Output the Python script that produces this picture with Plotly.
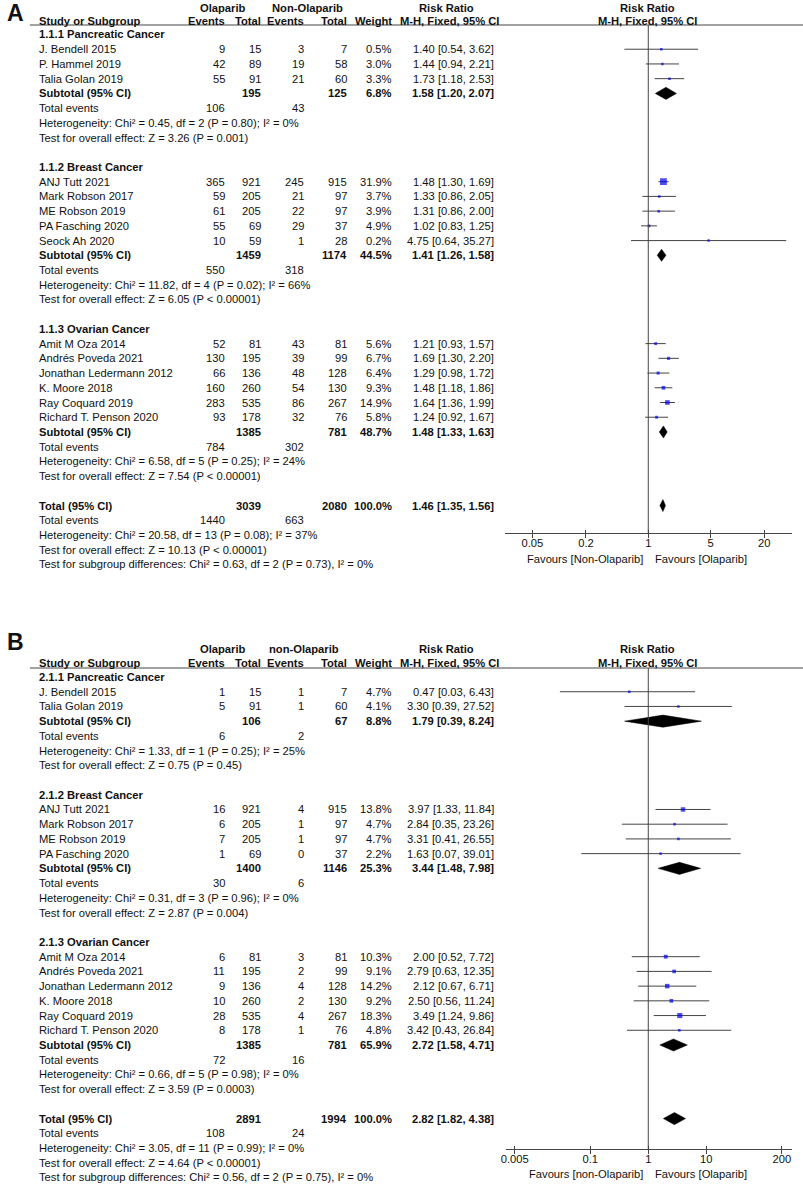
import math
import plotly.graph_objects as go

W, H = 803, 1187

# ---------------- Panel A data ----------------
a_groups = ["1.1.1 Pancreatic Cancer", "1.1.2 Breast Cancer", "1.1.3 Ovarian Cancer"]
a_studies = [["J. Bendell 2015", "P. Hammel 2019", "Talia Golan 2019"],
             ["ANJ Tutt 2021", "Mark Robson 2017", "ME Robson 2019", "PA Fasching 2020", "Seock Ah 2020"],
             ["Amit M Oza 2014", "Andrés Poveda 2021", "Jonathan Ledermann 2012", "K. Moore 2018",
              "Ray Coquard 2019", "Richard T. Penson 2020"]]
a_ev_ola = [[9, 42, 55], [365, 59, 61, 55, 10], [52, 130, 66, 160, 283, 93]]
a_tot_ola = [[15, 89, 91], [921, 205, 205, 69, 59], [81, 195, 136, 260, 535, 178]]
a_ev_non = [[3, 19, 21], [245, 21, 22, 29, 1], [43, 39, 48, 54, 86, 32]]
a_tot_non = [[7, 58, 60], [915, 97, 97, 37, 28], [81, 99, 128, 130, 267, 76]]
a_weight = [[0.5, 3.0, 3.3], [31.9, 3.7, 3.9, 4.9, 0.2], [5.6, 6.7, 6.4, 9.3, 14.9, 5.8]]
a_rr = [[1.40, 1.44, 1.73], [1.48, 1.33, 1.31, 1.02, 4.75], [1.21, 1.69, 1.29, 1.48, 1.64, 1.24]]
a_lo = [[0.54, 0.94, 1.18], [1.30, 0.86, 0.86, 0.83, 0.64], [0.93, 1.30, 0.98, 1.18, 1.36, 0.92]]
a_hi = [[3.62, 2.21, 2.53], [1.69, 2.05, 2.00, 1.25, 35.27], [1.57, 2.20, 1.72, 1.86, 1.99, 1.67]]
a_sub_tot_ola = [195, 1459, 1385]
a_sub_tot_non = [125, 1174, 781]
a_sub_weight = [6.8, 44.5, 48.7]
a_sub_rr = [1.58, 1.41, 1.48]
a_sub_lo = [1.20, 1.26, 1.33]
a_sub_hi = [2.07, 1.58, 1.63]
a_sub_ev_ola = [106, 550, 784]
a_sub_ev_non = [43, 318, 302]
a_sub_het = ["Heterogeneity: Chi² = 0.45, df = 2 (P = 0.80); I² = 0%",
             "Heterogeneity: Chi² = 11.82, df = 4 (P = 0.02); I² = 66%",
             "Heterogeneity: Chi² = 6.58, df = 5 (P = 0.25); I² = 24%"]
a_sub_z = ["Test for overall effect: Z = 3.26 (P = 0.001)",
           "Test for overall effect: Z = 6.05 (P < 0.00001)",
           "Test for overall effect: Z = 7.54 (P < 0.00001)"]
a_all_tot_ola, a_all_tot_non, a_all_weight = 3039, 2080, 100.0
a_all_rr, a_all_lo, a_all_hi = 1.46, 1.35, 1.56
a_all_ev_ola, a_all_ev_non = 1440, 663
a_all_het = "Heterogeneity: Chi² = 20.58, df = 13 (P = 0.08); I² = 37%"
a_all_z = "Test for overall effect: Z = 10.13 (P < 0.00001)"
a_all_sub = "Test for subgroup differences: Chi² = 0.63, df = 2 (P = 0.73), I² = 0%"
a_ticks = [0.05, 0.2, 1, 5, 20]
a_tick_text = ["0.05", "0.2", "1", "5", "20"]
a_ctrl = "Non-Olaparib"

# ---------------- Panel B data ----------------
b_groups = ["2.1.1 Pancreatic Cancer", "2.1.2 Breast Cancer", "2.1.3 Ovarian Cancer"]
b_studies = [["J. Bendell 2015", "Talia Golan 2019"],
             ["ANJ Tutt 2021", "Mark Robson 2017", "ME Robson 2019", "PA Fasching 2020"],
             ["Amit M Oza 2014", "Andrés Poveda 2021", "Jonathan Ledermann 2012", "K. Moore 2018",
              "Ray Coquard 2019", "Richard T. Penson 2020"]]
b_ev_ola = [[1, 5], [16, 6, 7, 1], [6, 11, 9, 10, 28, 8]]
b_tot_ola = [[15, 91], [921, 205, 205, 69], [81, 195, 136, 260, 535, 178]]
b_ev_non = [[1, 1], [4, 1, 1, 0], [3, 2, 4, 2, 4, 1]]
b_tot_non = [[7, 60], [915, 97, 97, 37], [81, 99, 128, 130, 267, 76]]
b_weight = [[4.7, 4.1], [13.8, 4.7, 4.7, 2.2], [10.3, 9.1, 14.2, 9.2, 18.3, 4.8]]
b_rr = [[0.47, 3.30], [3.97, 2.84, 3.31, 1.63], [2.00, 2.79, 2.12, 2.50, 3.49, 3.42]]
b_lo = [[0.03, 0.39], [1.33, 0.35, 0.41, 0.07], [0.52, 0.63, 0.67, 0.56, 1.24, 0.43]]
b_hi = [[6.43, 27.52], [11.84, 23.26, 26.55, 39.01], [7.72, 12.35, 6.71, 11.24, 9.86, 26.84]]
b_sub_tot_ola = [106, 1400, 1385]
b_sub_tot_non = [67, 1146, 781]
b_sub_weight = [8.8, 25.3, 65.9]
b_sub_rr = [1.79, 3.44, 2.72]
b_sub_lo = [0.39, 1.48, 1.58]
b_sub_hi = [8.24, 7.98, 4.71]
b_sub_ev_ola = [6, 30, 72]
b_sub_ev_non = [2, 6, 16]
b_sub_het = ["Heterogeneity: Chi² = 1.33, df = 1 (P = 0.25); I² = 25%",
             "Heterogeneity: Chi² = 0.31, df = 3 (P = 0.96); I² = 0%",
             "Heterogeneity: Chi² = 0.66, df = 5 (P = 0.98); I² = 0%"]
b_sub_z = ["Test for overall effect: Z = 0.75 (P = 0.45)",
           "Test for overall effect: Z = 2.87 (P = 0.004)",
           "Test for overall effect: Z = 3.59 (P = 0.0003)"]
b_all_tot_ola, b_all_tot_non, b_all_weight = 2891, 1994, 100.0
b_all_rr, b_all_lo, b_all_hi = 2.82, 1.82, 4.38
b_all_ev_ola, b_all_ev_non = 108, 24
b_all_het = "Heterogeneity: Chi² = 3.05, df = 11 (P = 0.99); I² = 0%"
b_all_z = "Test for overall effect: Z = 4.64 (P < 0.00001)"
b_all_sub = "Test for subgroup differences: Chi² = 0.56, df = 2 (P = 0.75), I² = 0%"
b_ticks = [0.005, 0.1, 1, 10, 200]
b_tick_text = ["0.005", "0.1", "1", "10", "200"]
b_ctrl = "non-Olaparib"

# ---------------- styling / layout helpers ----------------
FONT = "Liberation Sans, Arial, sans-serif"
FS = 11.2
TXT = "#111111"
LINE = "#444444"
SQ = "#0000ee"
COL = dict(ev_o=222.7, tot_o=258.5, ev_n=302, tot_n=345, w=390.7, rr=493)
TEXT_X = 33


def xp(px):
    return px / W


def yp(py):
    return 1 - py / H


annotations, shapes, traces = [], [], []


def ann(px, py, text, anchor="left", bold=False, size=FS):
    annotations.append(dict(
        x=xp(px), y=yp(py), xref="paper", yref="paper",
        text=f"<b>{text}</b>" if bold else text, showarrow=False,
        xanchor=anchor, yanchor="middle", borderpad=0,
        font=dict(family=FONT, size=size, color=TXT)))


def fmt_rr(r, l, h):
    return f"{r:.2f} [{l:.2f}, {h:.2f}]"


def panel(d, cfg):
    xa, ya, xo = cfg["xa"], cfg["ya"], cfg["xo"]
    row0, step = cfg["row0"], cfg["step"]
    py = lambda i: row0 + i * step

    # headers
    h1, h2 = cfg["hdr1"], cfg["hdr2"]
    ann(1, cfg["lab_y"], cfg["label"], bold=True, size=23)
    ann(219, h1, "Olaparib", "center", True)
    ann(cfg["ctrl_x"], h1, d["ctrl"], "center", True)
    ann(444, h1, "Risk Ratio", "center", True)
    ann(647, h1, "Risk Ratio", "center", True)
    ann(TEXT_X, h2, "Study or Subgroup", bold=True)
    ann(COL["ev_o"], h2, "Events", "right", True)
    ann(COL["tot_o"], h2, "Total", "right", True)
    ann(COL["ev_n"], h2, "Events", "right", True)
    ann(COL["tot_n"], h2, "Total", "right", True)
    ann(COL["w"], h2, "Weight", "right", True)
    ann(447, h2, "M-H, Fixed, 95% CI", "center", True)
    ann(647, h2, "M-H, Fixed, 95% CI", "center", True)
    shapes.append(dict(type="line", xref="paper", yref="paper", x0=xp(25), x1=1,
                       y0=yp(cfg["top"]), y1=yp(cfg["top"]), line=dict(color=LINE, width=1)))

    ci_x, ci_y, sq_x, sq_y, sq_s, dm_x, dm_y = [], [], [], [], [], [], []
    hh = 0.41

    def diamond(i, r, l, h):
        dm_x.extend([l, r, h, r, l, None])
        dm_y.extend([i, i - hh, i, i + hh, i, None])

    i = 0
    for g in range(len(d["groups"])):
        ann(TEXT_X, py(i), d["groups"][g], bold=True)
        i += 1
        for s in range(len(d["studies"][g])):
            y = py(i)
            ann(TEXT_X, y, d["studies"][g][s])
            ann(COL["ev_o"], y, str(d["ev_ola"][g][s]), "right")
            ann(COL["tot_o"], y, str(d["tot_ola"][g][s]), "right")
            ann(COL["ev_n"], y, str(d["ev_non"][g][s]), "right")
            ann(COL["tot_n"], y, str(d["tot_non"][g][s]), "right")
            ann(COL["w"], y, f"{d['weight'][g][s]:.1f}%", "right")
            ann(COL["rr"], y, fmt_rr(d["rr"][g][s], d["lo"][g][s], d["hi"][g][s]), "right")
            ci_x.extend([d["lo"][g][s], d["hi"][g][s], None])
            ci_y.extend([i, i, None])
            sq_x.append(d["rr"][g][s])
            sq_y.append(i)
            sq_s.append(max(2.5, 1.2 * math.sqrt(d["weight"][g][s])))
            i += 1
        y = py(i)
        ann(TEXT_X, y, "Subtotal (95% CI)", bold=True)
        ann(COL["tot_o"], y, str(d["sub_tot_ola"][g]), "right", True)
        ann(COL["tot_n"], y, str(d["sub_tot_non"][g]), "right", True)
        ann(COL["w"], y, f"{d['sub_weight'][g]:.1f}%", "right", True)
        ann(COL["rr"], y, fmt_rr(d["sub_rr"][g], d["sub_lo"][g], d["sub_hi"][g]), "right", True)
        diamond(i, d["sub_rr"][g], d["sub_lo"][g], d["sub_hi"][g])
        i += 1
        y = py(i)
        ann(TEXT_X, y, "Total events")
        ann(COL["ev_o"], y, str(d["sub_ev_ola"][g]), "right")
        ann(COL["ev_n"], y, str(d["sub_ev_non"][g]), "right")
        i += 1
        ann(TEXT_X, py(i), d["sub_het"][g]); i += 1
        ann(TEXT_X, py(i), d["sub_z"][g]); i += 1
        i += 1  # blank row
    y = py(i)
    ann(TEXT_X, y, "Total (95% CI)", bold=True)
    ann(COL["tot_o"], y, str(d["all_tot_ola"]), "right", True)
    ann(COL["tot_n"], y, str(d["all_tot_non"]), "right", True)
    ann(COL["w"], y, f"{d['all_weight']:.1f}%", "right", True)
    ann(COL["rr"], y, fmt_rr(d["all_rr"], d["all_lo"], d["all_hi"]), "right", True)
    diamond(i, d["all_rr"], d["all_lo"], d["all_hi"])
    i += 1
    y = py(i)
    ann(TEXT_X, y, "Total events")
    ann(COL["ev_o"], y, str(d["all_ev_ola"]), "right")
    ann(COL["ev_n"], y, str(d["all_ev_non"]), "right")
    i += 1
    ann(TEXT_X, py(i), d["all_het"]); i += 1
    ann(TEXT_X, py(i), d["all_z"]); i += 1
    ann(TEXT_X, py(i), d["all_sub"]); i += 1

    # favours labels
    ann(643, cfg["fav_y"], f"Favours [{d['ctrl']}]", "right")
    ann(653, cfg["fav_y"], "Favours [Olaparib]", "left")

    # marks
    traces.append(go.Scatter(x=ci_x, y=ci_y, mode="lines", line=dict(color=LINE, width=1),
                             xaxis=xa, yaxis=ya, hoverinfo="skip", showlegend=False))
    traces.append(go.Scatter(x=sq_x, y=sq_y, mode="markers",
                             marker=dict(symbol="square", size=sq_s, color=SQ, line=dict(width=0)),
                             xaxis=xa, yaxis=ya, showlegend=False))
    traces.append(go.Scatter(x=dm_x, y=dm_y, mode="lines", fill="toself", fillcolor="black",
                             line=dict(color="black", width=0.5), xaxis=xa, yaxis=ya,
                             hoverinfo="skip", showlegend=False))
    traces.append(go.Scatter(x=[1], y=[0], mode="markers", marker=dict(opacity=0),
                             xaxis=xo, yaxis=ya, hoverinfo="skip", showlegend=False))

    # axes
    one, dec = cfg["one_px"], cfg["decade_px"]
    rng = [(cfg["xl"] - one) / dec, (cfg["xr"] - one) / dec]
    dom = [xp(cfg["xl"]), xp(cfg["xr"])]
    yrng = [(cfg["axis"] - row0) / step, (cfg["top"] - row0) / step]
    yname = "yaxis" + ya[1:]
    xname = "xaxis" + xa[1:]
    xoname = "xaxis" + xo[1:]
    lay = {}
    lay[xname] = dict(type="log", range=rng, domain=dom, anchor=ya, showgrid=False, zeroline=False,
                      showline=True, linecolor=LINE, linewidth=1, ticks="outside", ticklen=4,
                      tickcolor=LINE, tickvals=d["ticks"], ticktext=d["tick_text"],
                      ticklabelstandoff=-4,
                      tickfont=dict(family=FONT, size=FS, color=TXT), fixedrange=True)
    lay[xoname] = dict(type="log", range=rng, domain=dom, anchor=ya, overlaying=xa, showgrid=False,
                       zeroline=False, showline=False, ticks="inside", ticklen=3, tickcolor=LINE,
                       tickvals=d["ticks"], showticklabels=False)
    lay[yname] = dict(range=yrng, domain=[yp(cfg["axis"]), yp(cfg["top"])], visible=False,
                      anchor=xa, fixedrange=True)
    shapes.append(dict(type="line", xref=xa, yref=ya + " domain", x0=1, x1=1, y0=0, y1=1,
                       line=dict(color=LINE, width=1)))
    return lay


def pack(prefix):
    g = globals()
    keys = ["groups", "studies", "ev_ola", "tot_ola", "ev_non", "tot_non", "weight", "rr", "lo", "hi",
            "sub_tot_ola", "sub_tot_non", "sub_weight", "sub_rr", "sub_lo", "sub_hi", "sub_ev_ola",
            "sub_ev_non", "sub_het", "sub_z", "all_tot_ola", "all_tot_non", "all_weight", "all_rr",
            "all_lo", "all_hi", "all_ev_ola", "all_ev_non", "all_het", "all_z", "all_sub", "ticks",
            "tick_text", "ctrl"]
    return {k: g[prefix + k] for k in keys}


cfg_a = dict(xa="x", ya="y", xo="x3", row0=34.5, step=14.72, top=25, axis=533, xl=503, xr=791.7,
             one_px=647.3, decade_px=89.7, hdr1=8, hdr2=21, lab_y=13, label="A", ctrl_x=304, fav_y=558.5)
cfg_b = dict(xa="x2", ya="y2", xo="x4", row0=677, step=14.72, top=668, axis=1149, xl=504, xr=791.7,
             one_px=647.3, decade_px=58.4, hdr1=649, hdr2=663, lab_y=642, label="B", ctrl_x=301,
             fav_y=1174)

layout = {}
layout.update(panel(pack("a_"), cfg_a))
layout.update(panel(pack("b_"), cfg_b))

fig = go.Figure(data=traces)
fig.update_layout(width=W, height=H, margin=dict(l=0, r=0, t=0, b=0), paper_bgcolor="white",
                  plot_bgcolor="white", showlegend=False, annotations=annotations, shapes=shapes,
                  **layout)
fig.write_html("out.html", config={"displayModeBar": False},
               post_script="document.body.style.margin='0px';document.body.style.overflow='hidden';")
